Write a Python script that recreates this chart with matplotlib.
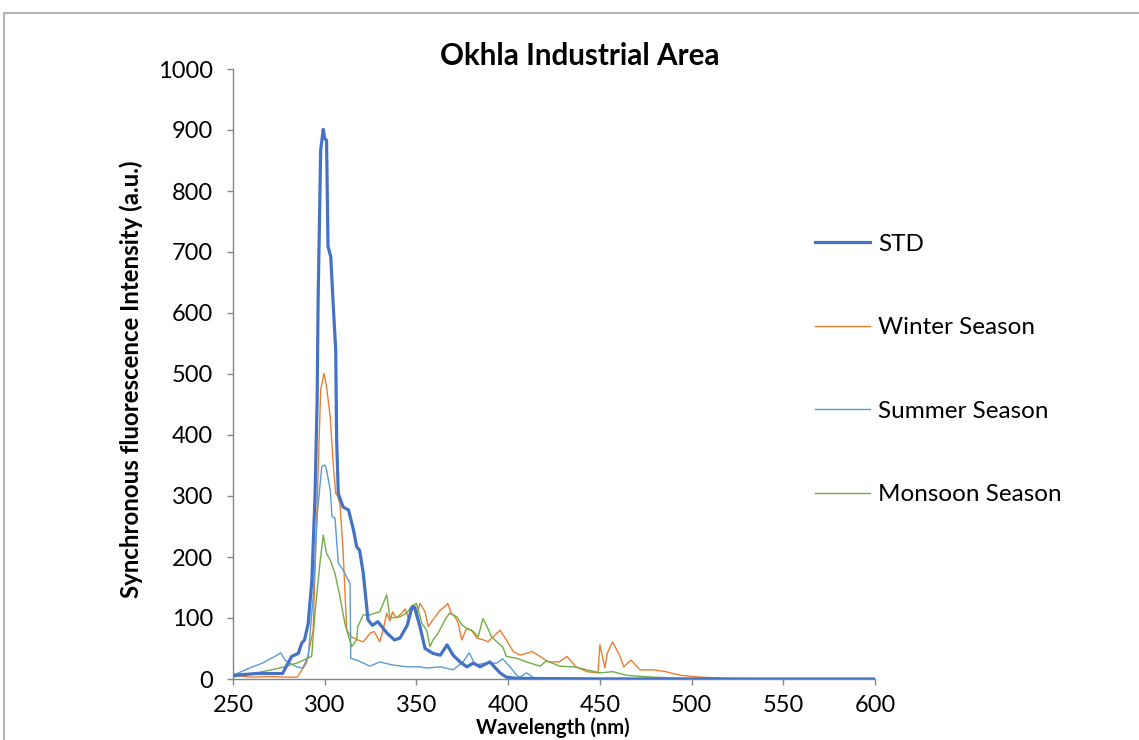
import matplotlib
matplotlib.use("Agg")
import matplotlib.pyplot as plt
from matplotlib.patches import Rectangle

# ---------------- data ----------------
std_wl = [250, 263, 277, 280, 282, 285.6, 287.5, 289, 291, 293, 294.7, 295.9, 296.4, 297.8, 299.2, 300, 301,
          301.8, 303.3, 304.7, 306, 306.5, 307.4, 310, 313, 315.7, 317.4, 319, 321, 323.6, 326, 329, 334, 338,
          341, 345, 347.6, 349, 352, 354.7, 359, 363, 366.7, 370, 373.8, 377.5, 381, 384.7, 390, 395.6, 399,
          405, 450, 500, 600]
std_val = [6, 9, 9, 26, 37, 42, 59, 64, 91, 162, 299, 462, 621, 867, 901, 886, 883,
           709, 692, 610, 539, 392, 304, 282, 277, 244, 217, 211, 174, 97, 88, 94, 75, 64,
           67, 88, 118, 118, 85, 50, 42, 39, 56, 39, 28, 20, 26, 20, 28, 10, 3,
           1, 0, 0, 0]

winter_wl = [250, 260, 270, 280, 285, 290, 293.7, 296, 297.8, 299.6, 301, 303, 304.6, 306, 307, 308.3, 310, 312,
             314.7, 318, 321, 324.7, 327, 330, 331.8, 333.8, 335.6, 337, 339, 342, 343.8, 345.6, 348, 350,
             352, 354.7, 356.4, 359, 363, 365.6, 367, 369, 371, 372.7, 374.7, 377.4, 380, 383, 386.6, 389,
             391.8, 395.6, 399, 402.8, 406.5, 413, 417.4, 421.8, 428, 432, 437, 443, 449, 450, 452.8, 454,
             457, 461, 463, 467, 472, 479, 486, 494, 505, 520, 550, 600]
winter_val = [6, 3, 4, 3, 3, 26, 80, 300, 474, 501, 479, 430, 354, 304, 300, 288, 211, 80,
              69, 64, 61, 75, 78, 61, 80, 108, 95, 110, 100, 108, 115, 100, 121, 102,
              124, 110, 86, 97, 113, 119, 124, 108, 102, 92, 64, 83, 80, 67, 64, 61,
              69, 80, 64, 45, 39, 45, 37, 28, 28, 37, 20, 12, 10, 56, 18, 42,
              61, 37, 20, 31, 15, 15, 12, 6, 3, 1, 0, 0]

summer_wl = [250, 259, 266, 274, 276, 278.4, 281, 284.7, 288, 291, 293.7, 296, 298.4, 300, 301, 303, 304,
             305.6, 307.4, 310, 312, 313.8, 314.2, 317.4, 324.7, 330, 337, 344.7, 352, 355.6, 363, 370,
             375.5, 378.8, 382, 388, 393.8, 397, 401, 404.7, 406.5, 410, 414, 450, 600]
summer_val = [6, 18, 26, 39, 43, 31, 26, 20, 18, 37, 135, 272, 348, 351, 343, 310, 266,
              264, 190, 179, 167, 157, 34, 31, 21, 28, 23, 20, 20, 18, 20, 15,
              28, 43, 23, 26, 26, 33, 20, 6, 3, 10, 2, 1, 0]

monsoon_wl = [250, 266, 275.6, 284.7, 292.9, 294.7, 297.4, 299.2, 301, 303, 305.6, 308.3, 311, 312, 314.7,
              317.4, 318, 321, 324.7, 327.4, 330, 333.8, 335.6, 341, 344.7, 347.4, 350, 353, 355.6, 357.4,
              359, 361.8, 365.6, 368, 372, 374.7, 377.4, 381, 383.6, 386.3, 388, 391, 394.5, 397, 399, 404.7,
              410, 417.4, 421, 428, 435.5, 443, 450, 457, 464.7, 479, 494, 520, 600]
monsoon_val = [3, 12, 18, 26, 37, 108, 190, 236, 206, 195, 173, 135, 91, 80, 53,
               64, 86, 105, 105, 108, 110, 138, 100, 102, 108, 119, 124, 91, 80, 53,
               64, 75, 97, 108, 102, 89, 83, 78, 69, 99, 89, 69, 59, 53, 37, 34,
               28, 21, 30, 21, 20, 15, 10, 12, 6, 3, 1, 0, 0]

x_ticks = [250, 300, 350, 400, 450, 500, 550, 600]
y_ticks = [0, 100, 200, 300, 400, 500, 600, 700, 800, 900, 1000]

# ---------------- plot ----------------
plt.rcParams['font.family'] = ['Lato', 'DejaVu Sans']
W, H = 1139, 740
fig = plt.figure(figsize=(W / 100, H / 100), dpi=100)
ax = fig.add_axes([233 / W, 1 - 679 / H, (875 - 233) / W, (679 - 69) / H])

# outer frame
fig.patches.append(Rectangle((4 / W, -0.1), 1.2, 1 - 13 / H + 0.1, transform=fig.transFigure,
                             fill=False, edgecolor='#a6a6a6', linewidth=1.2))

ax.plot(std_wl, std_val, color='#4472C4', lw=2.3, label='STD', zorder=4)
ax.plot(winter_wl, winter_val, color='#ED7D31', lw=1.0, label='Winter Season', zorder=3)
ax.plot(summer_wl, summer_val, color='#5B9BD5', lw=1.0, label='Summer Season', zorder=3)
ax.plot(monsoon_wl, monsoon_val, color='#70AD47', lw=1.0, label='Monsoon Season', zorder=3)

ax.set_xlim(250, 600)
ax.set_ylim(0, 1000)
ax.set_xticks(x_ticks)
ax.set_yticks(y_ticks)
for s in ['top', 'right']:
    ax.spines[s].set_visible(False)
for s in ['left', 'bottom']:
    ax.spines[s].set_color('#868686')
    ax.spines[s].set_linewidth(1.0)
ax.tick_params(axis='both', colors='#868686', labelcolor='black', labelsize=17, length=4.5, width=1.0)
ax.tick_params(axis='x', pad=7)
ax.tick_params(axis='y', pad=10)

fig.text(580 / W, 1 - 56 / H, 'Okhla Industrial Area', fontsize=21.3, fontweight='bold',
         ha='center', va='center')
fig.text(553 / W, 1 - 728 / H, 'Wavelength (nm)', fontsize=14.5, fontweight='bold',
         ha='center', va='center')
fig.text(131 / W, 1 - 379 / H, 'Synchronous fluorescence Intensity (a.u.)', fontsize=17.3,
         fontweight='bold', ha='center', va='center', rotation=90)

leg = ax.legend(loc='upper left', bbox_to_anchor=(793 / W, 1 - 212 / H), bbox_transform=fig.transFigure,
                frameon=False, fontsize=17.5, labelspacing=2.57, handlelength=2.26, handletextpad=0.33)

fig.savefig('out.png', dpi=100)
